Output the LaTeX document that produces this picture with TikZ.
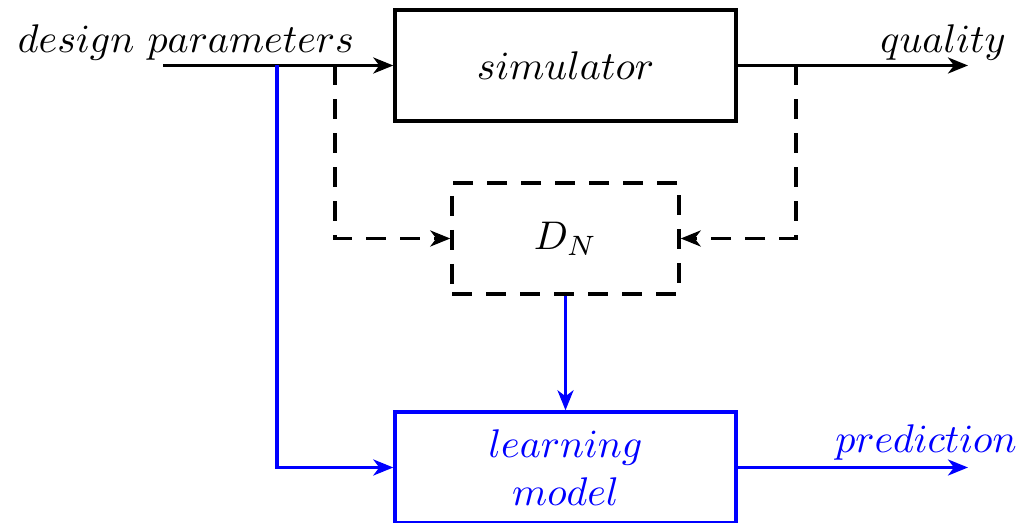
\documentclass[tikz,border=0pt]{standalone}
\usetikzlibrary{arrows.meta}
\begin{document}
\begin{tikzpicture}[x=0.25pt,y=-0.25pt, line width=0.8pt,
  box/.style={draw, line width=0.85pt, minimum width=85.25pt, minimum height=27.75pt, inner sep=0pt},
  arr/.style={-{Stealth[length=5pt,width=4pt,inset=1.5pt]}},
  dsh/.style={dash pattern=on 5pt off 3.5pt},
  lbl/.style={inner sep=0pt, anchor=base}]
\useasboundingbox (0,0) rectangle (1019,523);
\node[box] (sim) at (565.5,65.5) {$simulator$};
\node[box, dsh, minimum width=56.75pt] (dn) at (565.5,238.5) {$D_N$};
\node[box, blue, text=blue, align=center] (lm) at (565.5,467.5) {$learning$\\$model$};
\node[lbl] (dp) at (186,53) {$design\ parameters$};
\node[lbl] (q) at (943,53) {$quality$};
\node[lbl, text=blue] (pr) at (926,453) {$prediction$};
\coordinate (dpS) at (163,65.5);
\coordinate (qE) at (968,65.5);
\coordinate (pE) at (968,467.5);
\coordinate (b1) at (277,65.5);
\coordinate (b2) at (335,65.5);
\coordinate (b3) at (796,65.5);
\draw[arr] (dpS) -- (sim.west);
\draw[arr] (sim.east) -- (qE);
\draw[dsh, arr] (b2) |- (dn.west);
\draw[dsh, arr] (b3) |- (dn.east);
\draw[blue, arr] (b1) |- (lm.west);
\draw[blue, arr] (dn.south) -- (lm.north);
\draw[blue, arr] (lm.east) -- (pE);
\end{tikzpicture}
\end{document}
